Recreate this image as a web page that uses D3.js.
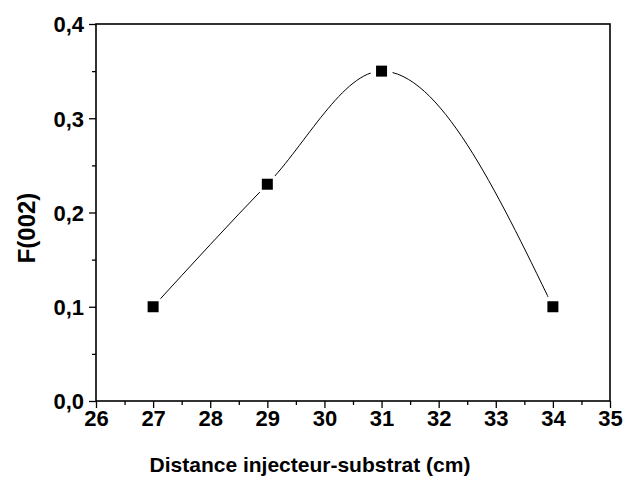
<!DOCTYPE html>
<html><head><meta charset="utf-8">
<script src="https://cdn.jsdelivr.net/npm/d3@7"></script>
<style>body{margin:0;background:#fff}svg{display:block}</style>
</head><body><svg id="c" width="624" height="479"></svg>
<script>
const distances = [27, 29, 31, 34];
const f002 = [0.10, 0.23, 0.35, 0.10];
const xTicks = [26, 27, 28, 29, 30, 31, 32, 33, 34, 35];
const yTicks = [0.0, 0.1, 0.2, 0.3, 0.4];
const xLabel = "Distance injecteur-substrat (cm)";
const yLabel = "F(002)";

const svg = d3.select("#c");
const m = {l: 96, t: 24, r: 14, b: 78};
const W = 624, H = 479;
const x = d3.scaleLinear().domain([26, 35]).range([m.l, W - m.r]);
const y = d3.scaleLinear().domain([0, 0.4]).range([H - m.b, m.t]);
const font = "'Liberation Sans', Arial, sans-serif";
const fmt = d => d3.format(".1f")(d).replace(".", ",");

const data = distances.map((d, i) => ({x: d, y: f002[i]}));

// mask for gaps around markers
const defs = svg.append("defs");
const mask = defs.append("mask").attr("id", "gap").attr("maskUnits", "userSpaceOnUse")
  .attr("x", 0).attr("y", 0).attr("width", W).attr("height", H);
mask.append("rect").attr("width", W).attr("height", H).attr("fill", "#fff");
mask.selectAll("circle").data(data).join("circle")
  .attr("cx", d => x(d.x)).attr("cy", d => y(d.y)).attr("r", 11).attr("fill", "#000");

// curve
const line = d3.line().x(d => x(d.x)).y(d => y(d.y)).curve(d3.curveMonotoneX);
svg.append("path").attr("d", line(data)).attr("fill", "none")
  .attr("stroke", "#000").attr("stroke-width", 1).attr("mask", "url(#gap)");

// markers
svg.selectAll("rect.pt").data(data).join("rect").attr("class", "pt")
  .attr("x", d => x(d.x) - 5.5).attr("y", d => y(d.y) - 5.5)
  .attr("width", 11).attr("height", 11).attr("fill", "#000");

// axes
const xAxis = d3.axisBottom(x).tickValues(xTicks).tickSize(7).tickFormat(d3.format("d"));
const gx = svg.append("g").attr("transform", `translate(0,${H - m.b})`).call(xAxis);
const xMinor = d3.axisBottom(x).tickValues(d3.range(26.5, 35, 1)).tickSize(4).tickFormat("");
svg.append("g").attr("transform", `translate(0,${H - m.b})`).call(xMinor);

const yAxis = d3.axisLeft(y).tickValues(yTicks).tickSize(7).tickFormat(fmt);
const gy = svg.append("g").attr("transform", `translate(${m.l},0)`).call(yAxis);
const yMinor = d3.axisLeft(y).tickValues([0.05, 0.15, 0.25, 0.35]).tickSize(4).tickFormat("");
svg.append("g").attr("transform", `translate(${m.l},0)`).call(yMinor);

svg.selectAll(".domain").remove();
svg.selectAll(".tick line").attr("stroke", "#000").attr("stroke-width", 1.3);
gx.selectAll(".tick text").attr("font-family", font).attr("font-weight", "bold")
  .attr("font-size", 22).attr("fill", "#000").attr("dy", "0.71em").attr("y", 9);
gy.selectAll(".tick text").attr("font-family", font).attr("font-weight", "bold")
  .attr("font-size", 22).attr("fill", "#000").attr("x", -12).attr("dy", "0.36em");

// frame
svg.append("rect").attr("x", m.l).attr("y", m.t)
  .attr("width", W - m.r - m.l).attr("height", H - m.b - m.t)
  .attr("fill", "none").attr("stroke", "#000").attr("stroke-width", 1.6);

// labels
svg.append("text").attr("x", 310).attr("y", 472).attr("text-anchor", "middle")
  .attr("font-family", font).attr("font-weight", "bold").attr("font-size", 21)
  .text(xLabel);
svg.append("text").attr("transform", "translate(35,228) rotate(-90)")
  .attr("text-anchor", "middle")
  .attr("font-family", font).attr("font-weight", "bold").attr("font-size", 24)
  .text(yLabel);
</script></body></html>
